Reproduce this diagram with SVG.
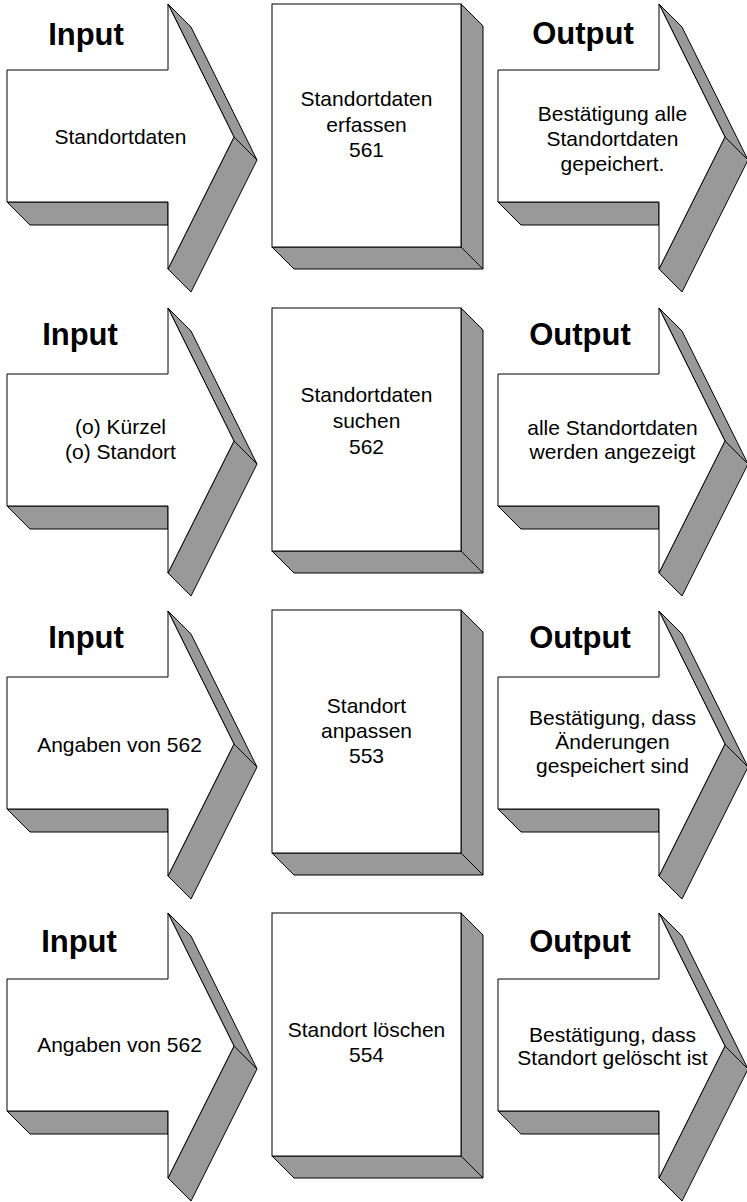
<svg xmlns="http://www.w3.org/2000/svg" width="747" height="1202" viewBox="0 0 747 1202">
<style>
.front{fill:#ffffff;stroke:#000000;stroke-width:1}
.shade{fill:#999999;stroke:#000000;stroke-width:1;stroke-linejoin:round}
.head{font-family:"Liberation Sans",Arial,sans-serif;font-weight:bold;font-size:31px;fill:#000;text-anchor:middle}
.txt{font-family:"Liberation Sans",Arial,sans-serif;font-size:21px;fill:#000;text-anchor:middle}
</style>
<defs>
<g id="arrowShape">
<polygon class="shade" points="0,202 23,225 161,225 161,202"/>
<polygon class="shade" points="161,4 184,27 250,160 227,137"/>
<polygon class="shade" points="227,137 250,160 184,292 161,269"/>
<polygon class="front" points="0,70 161,70 161,4 227,137 161,269 161,202 0,202"/>
</g>
<g id="boxShape">
<polygon class="shade" points="189,0 211,22 211,265 189,243"/>
<polygon class="shade" points="0,243 22,265 211,265 189,243"/>
<rect class="front" x="0" y="0" width="189" height="243"/>
</g>
</defs>

<g id="row1" transform="translate(0,0)">
<g id="input-561">
<use href="#arrowShape" x="7" y="0"/>
<text class="head" x="86" y="45">Input</text>
<text class="txt" x="120.5" y="144">Standortdaten</text>
</g>
<g id="process-561">
<use href="#boxShape" x="272" y="4"/>
<text class="txt" x="366.5" y="106">Standortdaten</text>
<text class="txt" x="366.5" y="132">erfassen</text>
<text class="txt" x="366.5" y="157">561</text>
</g>
<g id="output-561">
<use href="#arrowShape" x="498" y="0"/>
<text class="head" x="583" y="44">Output</text>
<text class="txt" x="612.5" y="121">Bestätigung alle</text>
<text class="txt" x="612.5" y="146">Standortdaten</text>
<text class="txt" x="612.5" y="171">gepeichert.</text>
</g>
</g>

<g id="row2" transform="translate(0,304)">
<g id="input-562">
<use href="#arrowShape" x="7" y="0"/>
<text class="head" x="80" y="41">Input</text>
<text class="txt" x="120.5" y="130">(o) Kürzel</text>
<text class="txt" x="120.5" y="155">(o) Standort</text>
</g>
<g id="process-562">
<use href="#boxShape" x="272" y="4"/>
<text class="txt" x="366.5" y="98">Standortdaten</text>
<text class="txt" x="366.5" y="124">suchen</text>
<text class="txt" x="366.5" y="150">562</text>
</g>
<g id="output-562">
<use href="#arrowShape" x="498" y="0"/>
<text class="head" x="580" y="41">Output</text>
<text class="txt" x="612.5" y="131">alle Standortdaten</text>
<text class="txt" x="612.5" y="155">werden angezeigt</text>
</g>
</g>

<g id="row3" transform="translate(0,607)">
<g id="input-553">
<use href="#arrowShape" x="7" y="0"/>
<text class="head" x="86" y="41">Input</text>
<text class="txt" x="119.5" y="145">Angaben von 562</text>
</g>
<g id="process-553">
<use href="#boxShape" x="272" y="3"/>
<text class="txt" x="366.5" y="106">Standort</text>
<text class="txt" x="366.5" y="131">anpassen</text>
<text class="txt" x="366.5" y="156">553</text>
</g>
<g id="output-553">
<use href="#arrowShape" x="498" y="0"/>
<text class="head" x="580" y="41">Output</text>
<text class="txt" x="612.5" y="118">Bestätigung, dass</text>
<text class="txt" x="612.5" y="142">Änderungen</text>
<text class="txt" x="612.5" y="166">gespeichert sind</text>
</g>
</g>

<g id="row4" transform="translate(0,909)">
<g id="input-554">
<use href="#arrowShape" x="7" y="0"/>
<text class="head" x="79" y="43">Input</text>
<text class="txt" x="119.5" y="143">Angaben von 562</text>
</g>
<g id="process-554">
<use href="#boxShape" x="272" y="4"/>
<text class="txt" x="366.5" y="128">Standort löschen</text>
<text class="txt" x="366.5" y="153">554</text>
</g>
<g id="output-554">
<use href="#arrowShape" x="498" y="0"/>
<text class="head" x="580" y="43">Output</text>
<text class="txt" x="612.5" y="133">Bestätigung, dass</text>
<text class="txt" x="612.5" y="156">Standort gelöscht ist</text>
</g>
</g>
</svg>
